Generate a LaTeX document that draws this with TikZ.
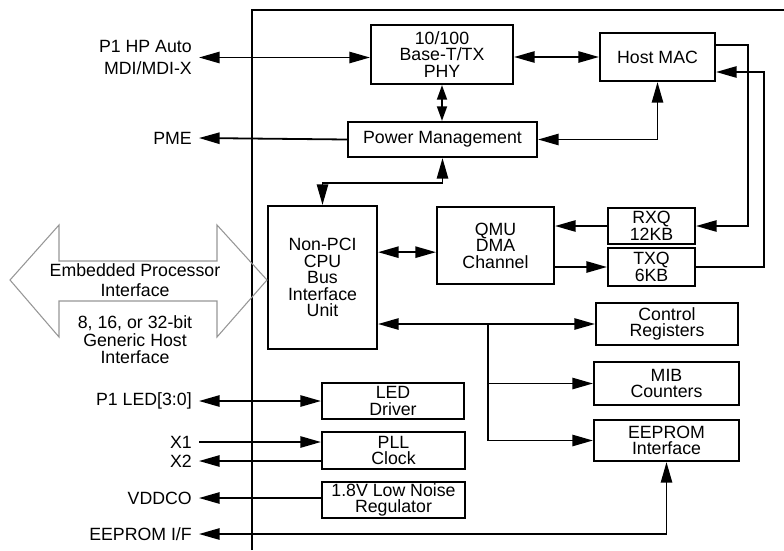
\documentclass[tikz,border=0pt]{standalone}
\usepackage{fontspec}
\setmainfont{Liberation Sans}
\usetikzlibrary{arrows.meta}
\tikzset{
  blk/.style={draw, line width=1.6pt, inner sep=0pt, align=center,
    font=\fontsize{13.3}{12.4}\selectfont},
  pinlbl/.style={anchor=east, inner xsep=5.25pt, inner ysep=0pt, align=right,
    font=\fontsize{13.3}{15.8}\selectfont},
  conn/.style={line width=1.35pt, >={Triangle[length=15.5pt,width=8.5pt]}},
  shortconn/.style={line width=1.35pt, >={Triangle[length=11pt,width=7.5pt]}}
}

\begin{document}
\begin{tikzpicture}[x=0.75pt,y=0.75pt,yscale=-1,xscale=1]
\useasboundingbox (0,0) rectangle (784,550);

%Chip boundary
\draw [line width=1.6pt] (252,550) -- (252,10) -- (784,10) ;

%Blocks
\node [blk, minimum width=106.5pt, minimum height=44.25pt] (phy) at (442,54.5) {10/100\\Base-T/TX\\PHY};
\node [blk, minimum width=86.25pt, minimum height=36pt] (mac) at (657.5,57) {Host MAC};
\node [blk, minimum width=141.75pt, minimum height=26.25pt] (pm) at (442.5,139.5) {Power Management};
\node [blk, minimum width=81.75pt, minimum height=107.25pt] (bus) at (322.5,277.5) {Non-PCI\\CPU\\Bus\\Interface\\Unit};
\node [blk, minimum width=87.75pt, minimum height=57.75pt] (qmu) at (495.5,245.5) {QMU\\DMA\\Channel};
\node [blk, minimum width=65.25pt, minimum height=27pt] (rxq) at (651.5,226) {RXQ\\12KB};
\node [blk, minimum width=65.25pt, minimum height=28.5pt] (txq) at (651.5,267) {TXQ\\6KB};
\node [blk, minimum width=106.5pt, minimum height=31.5pt] (ctrl) at (667,324) {Control\\Registers};
\node [blk, minimum width=108.75pt, minimum height=32.25pt] (mib) at (666.5,383.5) {MIB\\Counters};
\node [blk, minimum width=108.75pt, minimum height=30.75pt] (eep) at (666.5,440.5) {EEPROM\\Interface};
\node [blk, minimum width=106.5pt, minimum height=27pt] (led) at (393,401) {LED\\Driver};
\node [blk, minimum width=107.25pt, minimum height=27.75pt] (pll) at (393.5,450.5) {PLL\\Clock};
\node [blk, minimum width=107.25pt, minimum height=27pt] (reg) at (393.5,500) {1.8V Low Noise\\Regulator};

%Pin labels
\node [pinlbl] (lblmdi) at (199,57.5) {P1 HP Auto\\MDI/MDI-X};
\node [pinlbl] (lblpme) at (199,138) {PME};
\node [pinlbl] (lblled) at (199,401) {P1 LED[3:0]};
\node [pinlbl] (lblxa) at (199,442) {X1};
\node [pinlbl] (lblxb) at (199,461) {X2};
\node [pinlbl] (lblvdd) at (199,498) {VDDCO};
\node [pinlbl] (lbleep) at (199,534) {EEPROM I/F};

%Embedded processor interface
\draw [color={rgb, 255:red, 150; green, 150; blue, 150 }, line width=0.8pt] (10,280) -- (59,225) -- (59,261) -- (217,261) -- (217,225) -- (267,280) -- (217,337) -- (217,301) -- (59,301) -- (59,337) -- cycle ;
\node [align=center, inner sep=0pt, font=\fontsize{13.3}{15}\selectfont] (epi) at (135,280.5) {Embedded Processor\\Interface};
\node [align=center, inner sep=0pt, font=\fontsize{13.3}{13.1}\selectfont] (ghi) at (135,340) {8, 16, or 32-bit\\Generic Host\\Interface};

%Connectors
\draw [conn, <->] (lblmdi.east) -- (lblmdi.east -| phy.west) ;
\draw [conn, <->] (mac.west -| phy.east) -- (mac.west) ;
\draw [shortconn, <->] (phy.south) -- (phy.south |- pm.north) ;
\draw [conn, <->] (pm.east) -| (mac.south) ;
\draw [conn, ->] (pm.west) -- (lblpme.east) ;
\draw [conn, <->] (pm.south) -- ++(0,25) -| (bus.north) ;
\coordinate (busq) at ([yshift=5pt]qmu.west);
\draw [conn, <->] (busq -| bus.east) -- (busq) ;
\draw [conn, ->] (rxq.west) -- (rxq.west -| qmu.east) ;
\draw [conn, ->] (txq.west -| qmu.east) -- (txq.west) ;
\coordinate (macout) at ([yshift=-9pt]mac.east);
\coordinate (macin) at ([yshift=11.25pt]mac.east);
\draw [conn, ->] (macout) -- ++(32,0) |- (rxq.east) ;
\draw [conn, ->] (txq.east) -- ++(68,0) |- (macin) ;
\draw [conn, <->] (ctrl.west -| bus.east) -- (ctrl.west) ;
\coordinate (tap) at (488,324);
\draw [conn, ->] (tap) |- (eep.west) ;
\draw [conn, ->] (tap |- mib.west) -- (mib.west) ;
\draw [conn, <->] (lbleep.east) -| (eep.south) ;
\draw [conn, <->] (lblled.east) -- (lblled.east -| led.west) ;
\draw [conn, ->] (lblxa.east) -- (lblxa.east -| pll.west) ;
\draw [conn, ->] (lblxb.east -| pll.west) -- (lblxb.east) ;
\draw [conn, ->] (lblvdd.east -| reg.west) -- (lblvdd.east) ;

\end{tikzpicture}
\end{document}
